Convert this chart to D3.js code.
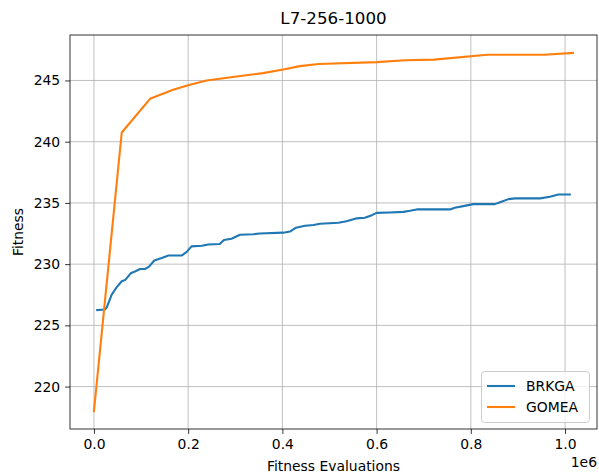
<!DOCTYPE html>
<html>
<head>
<meta charset="utf-8">
<script src="https://cdn.jsdelivr.net/npm/d3@7"></script>
<style>
body{margin:0;background:#fff;}
svg{display:block;font-family:"DejaVu Sans",sans-serif;}
</style>
</head>
<body>
<svg id="chart" width="599" height="473"></svg>
<script>
const title = "L7-256-1000";
const xLabel = "Fitness Evaluations";
const yLabel = "Fitness";
const xTicks = [0, 200000, 400000, 600000, 800000, 1000000];
const yTicks = [220, 225, 230, 235, 240, 245];
const seriesNames = ["BRKGA", "GOMEA"];
const seriesColors = ["#1f77b4", "#ff7f0e"];

const brkgaX = [0.007,0.023,0.027,0.0375,0.048,0.059,0.066,0.078,0.087,0.098,0.108,0.117,0.128,0.144,0.158,0.186,0.197,0.207,0.229,0.243,0.267,0.276,0.292,0.31,0.338,0.352,0.402,0.416,0.429,0.448,0.466,0.48,0.519,0.536,0.558,0.575,0.59,0.6,0.628,0.657,0.671,0.685,0.756,0.766,0.784,0.805,0.851,0.862,0.88,0.894,0.947,0.968,0.986,1.01].map(v => v*1e6);
const brkgaY = [226.25,226.3,226.45,227.5,228.1,228.6,228.7,229.25,229.4,229.6,229.6,229.8,230.3,230.5,230.7,230.7,231.0,231.45,231.5,231.6,231.65,231.97,232.08,232.4,232.44,232.5,232.57,232.66,232.98,233.14,233.2,233.3,233.38,233.5,233.74,233.79,234.0,234.19,234.22,234.27,234.36,234.47,234.47,234.6,234.74,234.9,234.9,235.06,235.31,235.37,235.37,235.5,235.69,235.69];

const gomeaX = [0,0.059,0.119,0.168,0.2,0.239,0.303,0.359,0.402,0.437,0.477,0.601,0.66,0.722,0.835,0.956,1.017].map(v => v*1e6);
const gomeaY = [218.0,240.75,243.5,244.24,244.6,245.0,245.33,245.6,245.9,246.17,246.35,246.5,246.65,246.7,247.1,247.1,247.25];

const svg = d3.select("#chart");
const m = {left:70, right:597, top:35, bottom:429};

const allX = brkgaX.concat(gomeaX), allY = brkgaY.concat(gomeaY);
const xMin = d3.min(allX), xMax = d3.max(allX), yMin = d3.min(allY), yMax = d3.max(allY);
const xPad = (xMax - xMin)*0.05, yPad = (yMax - yMin)*0.05;
const x = d3.scaleLinear().domain([xMin - xPad, xMax + xPad]).range([m.left, m.right]);
const y = d3.scaleLinear().domain([yMin - yPad, yMax + yPad]).range([m.bottom, m.top]);

// grid
const grid = svg.append("g");
xTicks.forEach(t => grid.append("line").attr("x1", x(t)).attr("x2", x(t)).attr("y1", m.top).attr("y2", m.bottom)
  .attr("stroke", "#b0b0b0").attr("stroke-width", 0.8));
yTicks.forEach(t => grid.append("line").attr("x1", m.left).attr("x2", m.right).attr("y1", y(t)).attr("y2", y(t))
  .attr("stroke", "#b0b0b0").attr("stroke-width", 0.8));

// lines
const line = d3.line().x(d => x(d[0])).y(d => y(d[1]));
const series = [d3.zip(brkgaX, brkgaY), d3.zip(gomeaX, gomeaY)];
series.forEach((s, i) => svg.append("path").datum(s).attr("d", line).attr("fill", "none")
  .attr("stroke", seriesColors[i]).attr("stroke-width", 2.1).attr("stroke-linejoin", "round").attr("stroke-linecap", "square"));

// axes
const xAxis = d3.axisBottom(x).tickValues(xTicks).tickFormat(d => (d/1e6).toFixed(1)).tickSize(4.9).tickPadding(4.9);
const yAxis = d3.axisLeft(y).tickValues(yTicks).tickFormat(d3.format("d")).tickSize(4.9).tickPadding(4.9);
const gx = svg.append("g").attr("transform", `translate(0,${m.bottom})`).call(xAxis);
const gy = svg.append("g").attr("transform", `translate(${m.left},0)`).call(yAxis);
[gx, gy].forEach(g => {
  g.select(".domain").remove();
  g.selectAll(".tick line").attr("stroke", "#000").attr("stroke-width", 0.8);
  g.selectAll(".tick text").attr("fill", "#000").style("font-size", "13.9px").style("font-family", "DejaVu Sans");
});

// frame
svg.append("rect").attr("x", m.left).attr("y", m.top).attr("width", m.right - m.left).attr("height", m.bottom - m.top)
  .attr("fill", "none").attr("stroke", "#000").attr("stroke-width", 0.8);

// texts
svg.append("text").attr("x", (m.left + m.right)/2).attr("y", 24).attr("text-anchor", "middle")
  .style("font-size", "16.7px").text(title);
svg.append("text").attr("x", (m.left + m.right)/2).attr("y", 471).attr("text-anchor", "middle")
  .style("font-size", "13.9px").text(xLabel);
svg.append("text").attr("transform", `translate(23,${(m.top + m.bottom)/2}) rotate(-90)`).attr("text-anchor", "middle")
  .style("font-size", "13.9px").text(yLabel);
svg.append("text").attr("x", m.right).attr("y", 467).attr("text-anchor", "end")
  .style("font-size", "13.9px").text("1e6");

// legend
const lg = svg.append("g");
lg.append("rect").attr("x", 481.5).attr("y", 371.5).attr("width", 108).attr("height", 51).attr("rx", 3)
  .attr("fill", "#fff").attr("fill-opacity", 0.8).attr("stroke", "#cccccc").attr("stroke-width", 1);
seriesNames.forEach((n, i) => {
  const yy = 386 + i*21;
  lg.append("line").attr("x1", 487).attr("x2", 515).attr("y1", yy).attr("y2", yy)
    .attr("stroke", seriesColors[i]).attr("stroke-width", 2.1);
  lg.append("text").attr("x", 526).attr("y", yy + 5).style("font-size", "13.9px").text(n);
});
</script>
</body>
</html>
